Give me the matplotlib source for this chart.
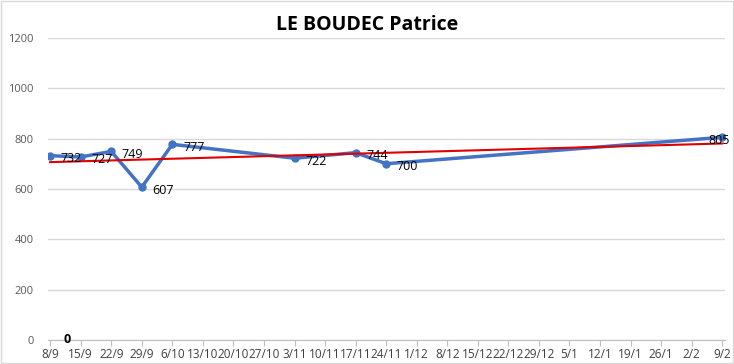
import matplotlib.pyplot as plt
import numpy as np
from matplotlib.patches import Rectangle

plt.rcParams['font.family'] = ['Open Sans', 'DejaVu Sans']

tick_labels = ['8/9', '15/9', '22/9', '29/9', '6/10', '13/10', '20/10', '27/10', '3/11',
               '10/11', '17/11', '24/11', '1/12', '8/12', '15/12', '22/12', '29/12',
               '5/1', '12/1', '19/1', '26/1', '2/2', '9/2']
point_dates = ['8/9', '15/9', '22/9', '29/9', '6/10', '3/11', '17/11', '24/11', '9/2']
point_values = [732, 727, 749, 607, 777, 722, 744, 700, 805]

x = np.array([tick_labels.index(d) for d in point_dates])
y = np.array(point_values)

fig = plt.figure(figsize=(7.34, 3.64), dpi=100)
ax = fig.add_axes([0.065, 0.066, 0.923, 0.83])

ax.plot(x, y, color='#4472C4', lw=2.5, marker='o', ms=5, zorder=3)

# linear trendline
k, b = np.polyfit(x, y, 1)
xt = np.array([0, len(tick_labels) - 1])
ax.plot(xt, k * xt + b, color='#E00000', lw=1.5, zorder=4)

for i, (xi, yi) in enumerate(zip(x, y)):
    dx = 0.35 if i < len(x) - 1 else -0.45
    ax.text(xi + dx, yi - 12, str(yi), fontsize=9, va='center', ha='left', color='black', zorder=5)

ax.text(0.45, 0, '0', fontsize=9, fontweight='bold', va='center', ha='left', zorder=5)

ax.set_xlim(-0.08, len(tick_labels) - 1 + 0.1)
ax.set_ylim(0, 1200)
ax.set_yticks(range(0, 1201, 200))
ax.set_xticks(range(len(tick_labels)))
ax.set_xticklabels(tick_labels)
ax.grid(axis='y', color='#D9D9D9', lw=1)
ax.set_axisbelow(True)
for s in ['top', 'right', 'left']:
    ax.spines[s].set_visible(False)
ax.spines['bottom'].set_color('#BFBFBF')
ax.tick_params(axis='y', length=0, labelsize=8, labelcolor='#595959', pad=10)
ax.tick_params(axis='x', length=4, color='#BFBFBF', labelsize=8.5, labelcolor='#404040', pad=2)

fig.text(0.5, 0.93, 'LE BOUDEC Patrice', ha='center', va='center', fontsize=14, fontweight='bold')
fig.patches.append(Rectangle((0.001, 0.002), 0.997, 0.995, transform=fig.transFigure,
                             fill=False, edgecolor='#D9D9D9', lw=1))

fig.savefig('out.png', dpi=100)
